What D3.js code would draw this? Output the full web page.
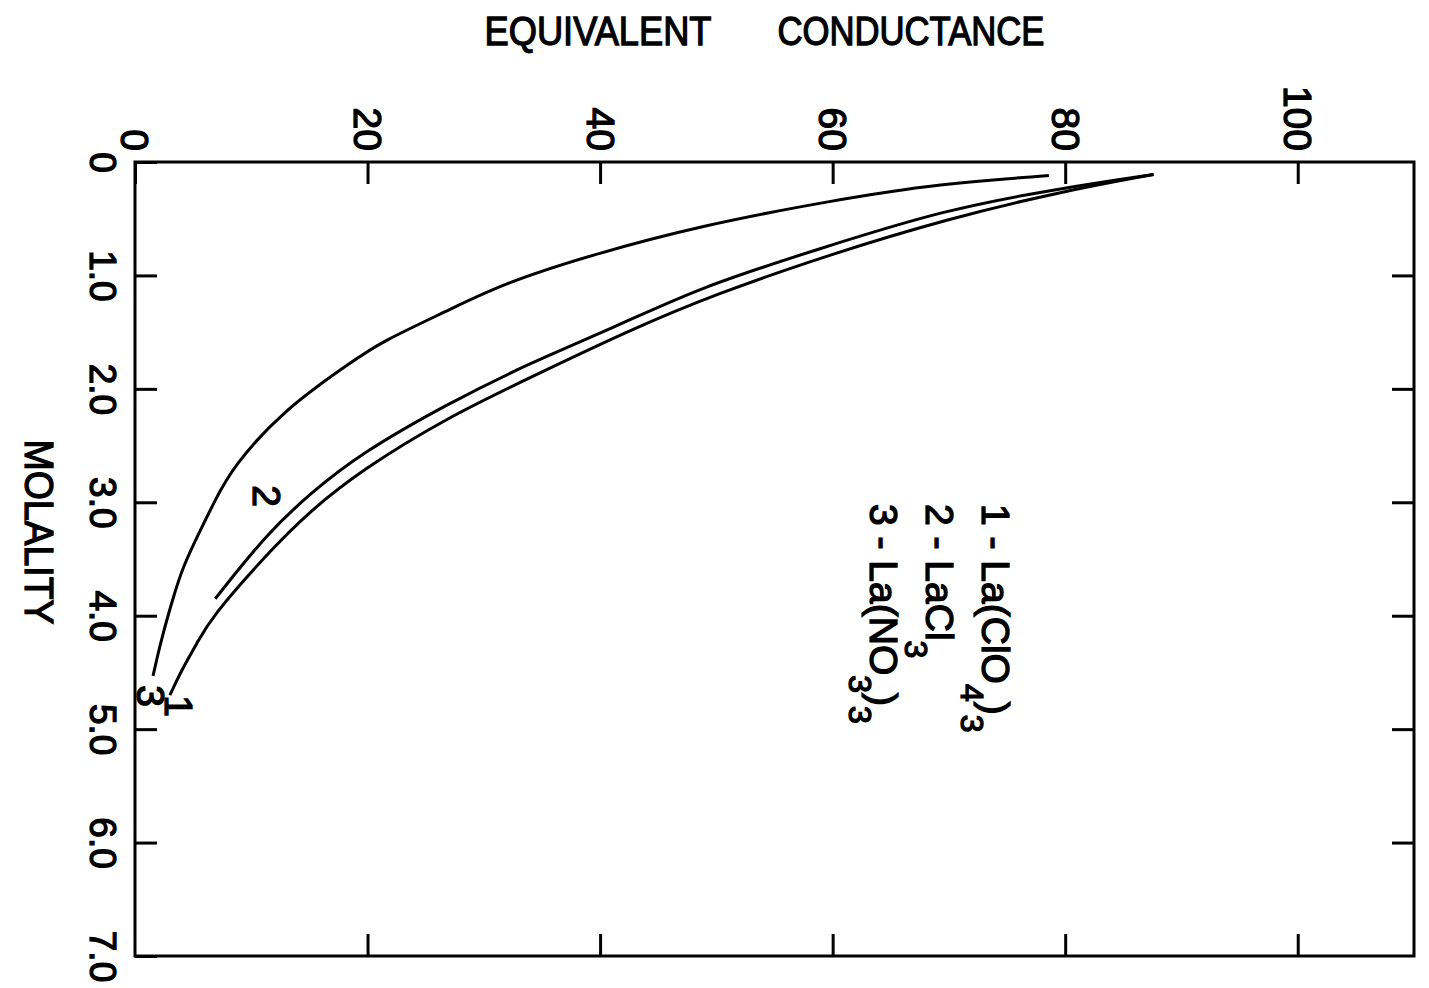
<!DOCTYPE html>
<html>
<head>
<meta charset="utf-8">
<script src="https://cdn.jsdelivr.net/npm/d3@7"></script>
<style>
  body { margin: 0; background: #fff; }
  text { font-family: "Liberation Sans", Arial, sans-serif; fill: #000; stroke: #000; stroke-width: 1.3px; }
</style>
</head>
<body>
<script>
// tick values on both axes
var condTicks = [0, 20, 40, 60, 80, 100];
var molTicks = [0, 1, 2, 3, 4, 5, 6, 7];
var molLabels = ["0", "1.0", "2.0", "3.0", "4.0", "5.0", "6.0", "7.0"];

// curve 1 - La(ClO4)3
var clo4Cond = [87.6, 79.7, 69.9, 59.6, 49.8, 42.6, 34.0, 26.9, 19.4, 14.8, 11.4, 6.5, 5.3, 4.1, 3.0];
var clo4Mol  = [0.11, 0.26, 0.50, 0.82, 1.17, 1.48, 1.90, 2.25, 2.72, 3.10, 3.45, 4.02, 4.25, 4.46, 4.70];

// curve 2 - LaCl3
var cl3Cond = [87.6, 79.7, 69.6, 58.7, 48.7, 41.2, 34.0, 26.9, 19.4, 15.1, 11.4, 6.9];
var cl3Mol  = [0.11, 0.23, 0.42, 0.77, 1.10, 1.46, 1.77, 2.13, 2.57, 2.92, 3.27, 3.85];

// curve 3 - La(NO3)3
var no3Cond = [78.6, 69.3, 59.9, 48.7, 39.2, 31.7, 26.9, 21.1, 18.8, 12.7, 8.4, 6.9, 5.6, 4.1, 3.2, 2.4, 1.9, 1.55];
var no3Mol  = [0.12, 0.19, 0.34, 0.56, 0.82, 1.07, 1.31, 1.59, 1.75, 2.19, 2.69, 2.98, 3.25, 3.57, 3.87, 4.16, 4.37, 4.53];

var W = 1429, H = 988;
var svg = d3.select("body").append("svg")
    .attr("width", W)
    .attr("height", H);

// scales (the figure is turned: conductance runs across, molality runs down)
var x = d3.scaleLinear().domain([0, 110]).range([135, 1414]);
var y = d3.scaleLinear().domain([0, 7]).range([162, 956]);

// frame
svg.append("rect")
    .attr("x", x(0)).attr("y", y(0))
    .attr("width", x(110) - x(0)).attr("height", y(7) - y(0))
    .attr("fill", "none").attr("stroke", "#000").attr("stroke-width", 3);

function styleAxis(g) {
  g.select(".domain").remove();
  g.selectAll(".tick line").attr("stroke", "#000").attr("stroke-width", 3);
}

// top axis with labels
var topAxis = svg.append("g")
    .attr("transform", "translate(0," + y(0) + ")")
    .call(d3.axisTop(x).tickValues(condTicks).tickSizeInner(-22).tickSizeOuter(0).tickPadding(11))
    .call(styleAxis);
topAxis.selectAll(".tick text")
    .attr("font-size", 39)
    .attr("font-family", "Liberation Sans, Arial, sans-serif")
    .attr("text-anchor", "end")
    .attr("transform", "rotate(90)")
    .attr("x", -11).attr("y", 0).attr("dy", "0.36em");

// bottom axis, ticks only
svg.append("g")
    .attr("transform", "translate(0," + y(7) + ")")
    .call(d3.axisBottom(x).tickValues(condTicks.slice(1)).tickSizeInner(-22).tickSizeOuter(0).tickFormat(""))
    .call(styleAxis);

// left axis with labels
var leftAxis = svg.append("g")
    .attr("transform", "translate(" + x(0) + ",0)")
    .call(d3.axisLeft(y).tickValues(molTicks).tickSizeInner(-22).tickSizeOuter(0)
      .tickFormat(function(d, i) { return molLabels[i]; }))
    .call(styleAxis);
leftAxis.selectAll(".tick text")
    .attr("font-size", 37)
    .attr("font-family", "Liberation Sans, Arial, sans-serif")
    .attr("text-anchor", "middle")
    .attr("transform", "rotate(90)")
    .attr("x", 0).attr("y", 18).attr("dy", "0.72em");

// right axis, ticks only
svg.append("g")
    .attr("transform", "translate(" + x(110) + ",0)")
    .call(d3.axisRight(y).tickValues(molTicks.slice(1, 7)).tickSizeInner(-22).tickSizeOuter(0).tickFormat(""))
    .call(styleAxis);

// axis titles
svg.append("text").attr("x", 598).attr("y", 45)
    .attr("text-anchor", "middle").attr("font-size", 41)
    .attr("textLength", 227).attr("lengthAdjust", "spacingAndGlyphs")
    .text("EQUIVALENT");
svg.append("text").attr("x", 911).attr("y", 45)
    .attr("text-anchor", "middle").attr("font-size", 41)
    .attr("textLength", 267).attr("lengthAdjust", "spacingAndGlyphs")
    .text("CONDUCTANCE");
svg.append("text")
    .attr("transform", "translate(25,532) rotate(90)")
    .attr("text-anchor", "middle").attr("font-size", 41)
    .attr("textLength", 185).attr("lengthAdjust", "spacingAndGlyphs")
    .text("MOLALITY");

// curves
var line = d3.line()
    .x(function(d) { return x(d[0]); })
    .y(function(d) { return y(d[1]); })
    .curve(d3.curveBasis);

var curves = [
  d3.zip(clo4Cond, clo4Mol),
  d3.zip(cl3Cond, cl3Mol),
  d3.zip(no3Cond, no3Mol)
];
svg.selectAll("path.curve")
    .data(curves)
    .enter()
    .append("path")
    .attr("class", "curve")
    .attr("d", line)
    .attr("fill", "none")
    .attr("stroke", "#000")
    .attr("stroke-width", 3);

// curve numbers
var curveLabels = [
  { t: "2", px: 253, py: 496 },
  { t: "3", px: 137, py: 696 },
  { t: "1", px: 165, py: 706 }
];
svg.selectAll("text.cl")
    .data(curveLabels)
    .enter()
    .append("text")
    .attr("class", "cl")
    .attr("transform", function(d) { return "translate(" + d.px + "," + d.py + ") rotate(90)"; })
    .attr("text-anchor", "middle")
    .attr("font-size", 39)
    .text(function(d) { return d.t; });

// legend (rotated, with subscripts)
var legend = [
  { bx: 982, parts: [["1 - La(ClO", 0], ["4", 1], [")", 0], ["3", 1]] },
  { bx: 926, parts: [["2 - LaCl", 0], ["3", 1]] },
  { bx: 870, parts: [["3 - La(NO", 0], ["3", 1], [")", 0], ["3", 1]] }
];
legend.forEach(function(l) {
  var t = svg.append("text")
      .attr("transform", "translate(" + l.bx + ",504) rotate(90)")
      .attr("font-size", 39)
      .attr("xml:space", "preserve");
  var shifted = 0;
  l.parts.forEach(function(p) {
    var dy = (p[1] ? 21 : 0) - shifted;
    shifted = p[1] ? 21 : 0;
    t.append("tspan")
        .attr("dy", dy)
        .attr("font-size", p[1] ? 32 : 39)
        .text(p[0]);
  });
});
</script>
</body>
</html>
